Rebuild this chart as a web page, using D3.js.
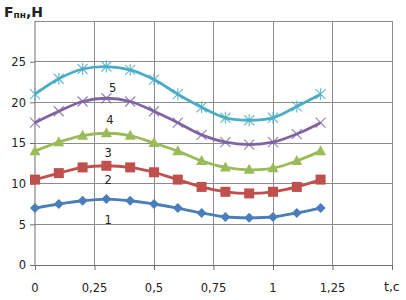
<!DOCTYPE html>
<html><head><meta charset="utf-8">
<script src="https://cdn.jsdelivr.net/npm/d3@7"></script>
<style>html,body{margin:0;padding:0;background:#fff;}svg{display:block;font-family:"DejaVu Sans",sans-serif;}</style>
</head><body>
<script>
const times = [0,0.1,0.2,0.3,0.4,0.5,0.6,0.7,0.8,0.9,1.0,1.1,1.2];
const s1 = [7.0,7.5,7.9,8.1,7.9,7.5,7.0,6.4,5.9,5.8,5.9,6.4,7.0];
const s2 = [10.5,11.3,12.0,12.2,12.0,11.4,10.5,9.6,9.0,8.8,9.0,9.6,10.5];
const s3 = [14.0,15.1,15.9,16.2,15.9,15.0,14.0,12.8,12.0,11.7,11.9,12.8,14.0];
const s4 = [17.5,18.9,20.1,20.5,20.1,18.9,17.5,16.0,15.1,14.8,15.1,16.1,17.5];
const s5 = [21.0,22.9,24.1,24.4,24.0,22.8,21.0,19.4,18.1,17.8,18.1,19.5,21.0];
const seriesNames = ["1","2","3","4","5"];
const xTicks = [0,0.25,0.5,0.75,1,1.25];
const xTickLabels = ["0","0,25","0,5","0,75","1","1,25"];
const yTicks = [0,5,10,15,20,25];
const labelPos = [[0.307,5.1],[0.307,10.0],[0.307,13.3],[0.315,17.3],[0.326,21.3]]; // [t, value] for curve number labels

const W=406,H=300;
const x = d3.scaleLinear().domain([0,1.5]).range([35,392]);
const y = d3.scaleLinear().domain([0,30]).range([265,21]);
const svg = d3.select("body").append("svg").attr("width",W).attr("height",H);

// grid
svg.append("g").selectAll("line").data([0.25,0.5,0.75,1,1.25,1.5]).join("line")
  .attr("x1",d=>x(d)).attr("x2",d=>x(d)).attr("y1",y(0)).attr("y2",y(30))
  .attr("stroke","#8c8c8c").attr("stroke-width",1).attr("shape-rendering","crispEdges");
svg.append("g").selectAll("line").data([5,10,15,20,25,30]).join("line")
  .attr("x1",x(0)).attr("x2",x(1.5)).attr("y1",d=>y(d)).attr("y2",d=>y(d))
  .attr("stroke","#8c8c8c").attr("stroke-width",1).attr("shape-rendering","crispEdges");

// axes
const xAxis = d3.axisBottom(x).tickValues([0,0.25,0.5,0.75,1,1.25,1.5]).tickSize(5).tickFormat("");
const gx = svg.append("g").attr("transform",`translate(0,${y(0)})`).call(xAxis);
gx.select(".domain").attr("stroke","#6e6e6e");
gx.selectAll(".tick line").attr("stroke","#6e6e6e");
const yAxis = d3.axisLeft(y).tickValues(yTicks).tickSize(5).tickFormat(d3.format("d"));
const gy = svg.append("g").attr("transform",`translate(${x(0)},0)`).call(yAxis);
gy.select(".domain").attr("stroke","#6e6e6e").attr("d",`M-0,${y(30)}V${y(0)}`);
gy.selectAll(".tick line").attr("stroke","#6e6e6e");
gy.selectAll(".tick text").attr("font-family","DejaVu Sans").attr("font-size",11.5).attr("fill","#222").attr("x",-9);

svg.append("g").selectAll("text").data(xTicks).join("text")
  .attr("x",(d,i)=>x(d)).attr("y",292).attr("text-anchor","middle")
  .attr("font-size",11.5).attr("fill","#222").text((d,i)=>xTickLabels[i]);
svg.append("text").attr("x",384).attr("y",291).attr("font-size",12.5).attr("fill","#222").text("t,c");

// title
const t = svg.append("text").attr("x",4).attr("y",17).attr("font-size",14).attr("font-weight","bold").attr("fill","#222");
t.append("tspan").text("F");
t.append("tspan").attr("font-size",9).attr("dy",1).text("пн");
t.append("tspan").attr("dy",-1).text(",Н");

const colors = ["#4a7ebb","#c0504d","#9bbb59","#8064a2","#4bacc6"];
const all = [s1,s2,s3,s4,s5];
const line = d3.line().x((d,i)=>x(times[i])).y(d=>y(d)).curve(d3.curveCatmullRom.alpha(0.5));

all.forEach((s,k)=>{
  const g = svg.append("g");
  g.append("path").attr("d",line(s)).attr("fill","none").attr("stroke",colors[k]).attr("stroke-width",2.8);
  const pts = g.selectAll("g").data(s).join("g").attr("transform",(d,i)=>`translate(${x(times[i])},${y(d)})`);
  const c = colors[k];
  if(k===0){
    pts.append("path").attr("d","M0,-5L5,0L0,5L-5,0Z").attr("fill",c);
  } else if(k===1){
    pts.append("rect").attr("x",-5).attr("y",-5).attr("width",10).attr("height",10).attr("fill",c);
  } else if(k===2){
    pts.append("path").attr("d","M0,-6L5.5,4L-5.5,4Z").attr("fill",c);
  } else if(k===3){
    pts.append("path").attr("d","M-5,-5L5,5M-5,5L5,-5").attr("stroke",c).attr("stroke-width",1.2).attr("stroke-opacity",0.8);
  } else {
    pts.append("path").attr("d","M-5,-5L5,5M-5,5L5,-5M0,-6V6").attr("stroke",c).attr("stroke-width",1.2).attr("stroke-opacity",0.8);
  }
});

svg.append("g").selectAll("text").data(seriesNames).join("text")
  .attr("x",(d,i)=>x(labelPos[i][0])).attr("y",(d,i)=>y(labelPos[i][1]))
  .attr("text-anchor","middle").attr("font-size",11.5).attr("fill","#222").text(d=>d);
</script>
</body></html>
